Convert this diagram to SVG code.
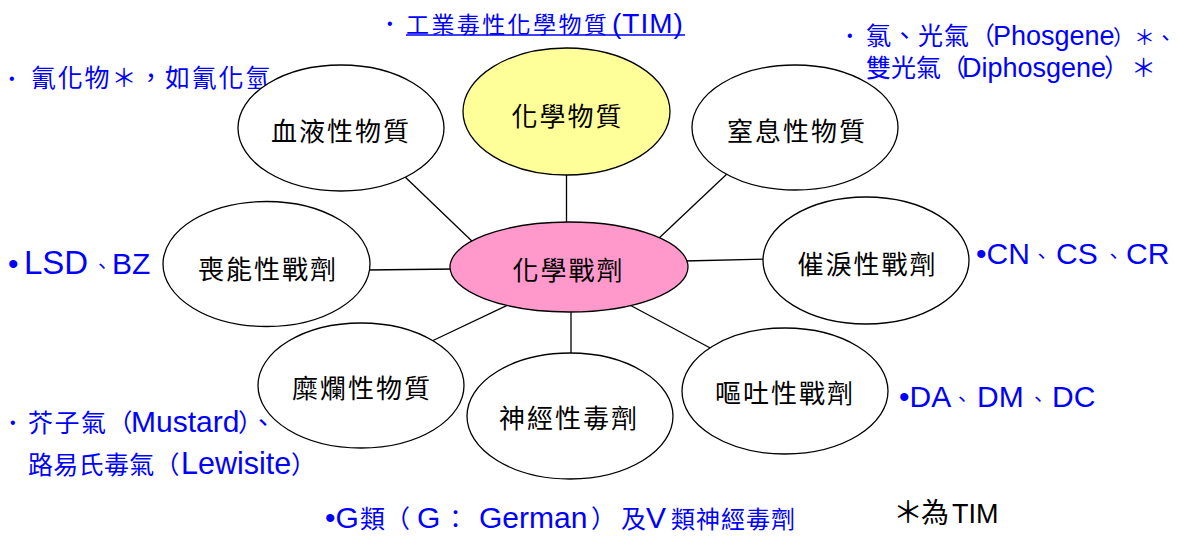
<svg xmlns="http://www.w3.org/2000/svg" width="1177" height="536" viewBox="0 0 1177 536">
<style>
.node{fill:#fff;stroke:#000;stroke-width:1.3}
.lbl{font-family:"Noto Sans CJK TC",sans-serif;font-size:26px;fill:#000;text-anchor:middle;letter-spacing:2px}
.ann{font-family:"Liberation Sans","Noto Sans CJK TC",sans-serif;font-size:25px;fill:#0000FF}
.blk{font-family:"Liberation Sans","Noto Sans CJK TC",sans-serif;font-size:27px;fill:#000}
.bul{font-size:16px}
.lat{font-size:30px}
.pc{font-size:20px}
.conn line{stroke:#000;stroke-width:1.3}
</style>
<rect width="1177" height="536" fill="#fff"/>
<g id="annotations">
<text class="ann" x="387" y="28.5"><tspan class="bul">•</tspan></text>
<text class="ann" y="32.5"><tspan x="406" font-size="23" letter-spacing="2.4">工業毒性化學物質</tspan><tspan x="612" font-size="28" letter-spacing="1">(TIM)</tspan></text>
<line x1="406" y1="35" x2="685" y2="35" stroke="#0000FF" stroke-width="1.5"/>
<text class="ann" x="9" y="84"><tspan class="bul">•</tspan></text>
<text class="ann" x="31" y="86.5" font-size="23" letter-spacing="1.8">氰化物＊，如氰化氫</text>
<text class="ann" x="847" y="41"><tspan class="bul">•</tspan></text>
<text class="ann" y="45"><tspan x="866" letter-spacing="1">氯、光氣（</tspan><tspan x="993" font-size="27">Phosgene</tspan><tspan x="1113" font-size="21">）＊、</tspan></text>
<text class="ann" y="77"><tspan x="866">雙光氣（</tspan><tspan x="962" font-size="27">Diphosgene</tspan><tspan x="1104">）</tspan><tspan x="1131">＊</tspan></text>
<text class="ann" y="273.5"><tspan x="8" class="lat">•</tspan><tspan x="24" font-size="33">LSD</tspan><tspan x="92" class="pc">、</tspan><tspan x="112" class="lat">BZ</tspan></text>
<text class="ann" y="263.5"><tspan x="976" class="lat">•CN</tspan><tspan x="1031.5" class="pc">、</tspan><tspan x="1056" class="lat">CS</tspan><tspan x="1103.5" class="pc">、</tspan><tspan x="1126" class="lat">CR</tspan></text>
<text class="ann" y="407"><tspan x="899" class="lat">•DA</tspan><tspan x="952" class="pc">、</tspan><tspan x="977" class="lat">DM</tspan><tspan x="1028" class="pc">、</tspan><tspan x="1052" class="lat">DC</tspan></text>
<text class="ann" x="10" y="427.5"><tspan class="bul">•</tspan></text>
<text class="ann" y="432"><tspan x="28" letter-spacing="1.5">芥子氣（</tspan><tspan x="131" class="lat">Mustard</tspan><tspan x="238">）、</tspan></text>
<text class="ann" y="473.5"><tspan x="28" letter-spacing="0.3">路易氏毒氣（</tspan><tspan x="181" font-size="30.5">Lewisite</tspan><tspan x="291">）</tspan></text>
<text class="ann" y="528"><tspan x="325" class="lat">•G</tspan><tspan x="360">類</tspan><tspan x="385">（</tspan><tspan x="417" class="lat">G</tspan><tspan x="443">：</tspan><tspan x="479" class="lat">German</tspan><tspan x="591">）</tspan><tspan x="621">及</tspan><tspan x="646" class="lat">V</tspan><tspan x="671" font-size="24" letter-spacing="1">類神經毒劑</tspan></text>
<text class="blk" y="523"><tspan x="893" font-size="30">＊</tspan><tspan x="921" font-size="28">為</tspan><tspan x="952">TIM</tspan></text>
</g>
<g id="connectors" class="conn">
<line x1="402" y1="174" x2="476" y2="245"/>
<line x1="566.5" y1="172" x2="566.5" y2="226"/>
<line x1="729" y1="172" x2="657" y2="240"/>
<line x1="366" y1="270" x2="455" y2="269"/>
<line x1="684" y1="261" x2="767" y2="259"/>
<line x1="432" y1="341" x2="512" y2="303"/>
<line x1="571" y1="308" x2="571" y2="357"/>
<line x1="626" y1="303" x2="714" y2="350"/>
</g>
<g id="node-blood"><ellipse class="node" cx="341" cy="128" rx="103" ry="63"/><text class="lbl" x="341" y="141">血液性物質</text></g>
<g id="node-chemical"><ellipse class="node" cx="566.5" cy="111.5" rx="103.5" ry="63.5" style="fill:#FFFF99"/><text class="lbl" x="567.5" y="125.5">化學物質</text></g>
<g id="node-choking"><ellipse class="node" cx="795" cy="127.5" rx="103" ry="62.5"/><text class="lbl" x="797" y="140.5">窒息性物質</text></g>
<g id="node-incap"><ellipse class="node" cx="266.5" cy="264" rx="103.5" ry="62.5"/><text class="lbl" x="268" y="278.5">喪能性戰劑</text></g>
<g id="node-center"><ellipse class="node" cx="569" cy="267" rx="119" ry="45" style="fill:#FF99CC"/><text class="lbl" x="568.5" y="280">化學戰劑</text></g>
<g id="node-tear"><ellipse class="node" cx="866" cy="260.5" rx="103" ry="63.5"/><text class="lbl" x="867.5" y="274">催淚性戰劑</text></g>
<g id="node-blister"><ellipse class="node" cx="361" cy="385.5" rx="103" ry="62.5"/><text class="lbl" x="362" y="398">糜爛性物質</text></g>
<g id="node-nerve"><ellipse class="node" cx="570" cy="416" rx="103" ry="63"/><text class="lbl" x="569" y="428">神經性毒劑</text></g>
<g id="node-vomit"><ellipse class="node" cx="785" cy="391" rx="103" ry="63"/><text class="lbl" x="785" y="403">嘔吐性戰劑</text></g>
</svg>
